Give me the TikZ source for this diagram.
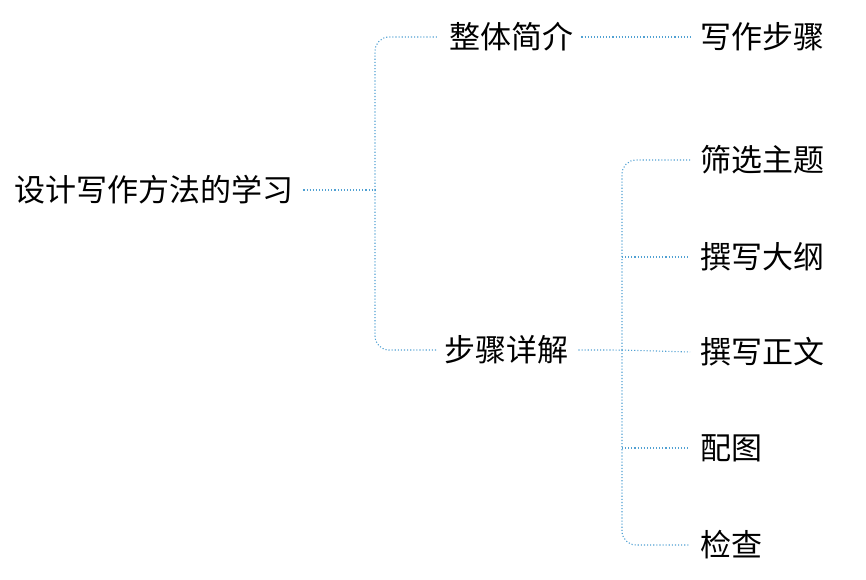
\documentclass[tikz,border=0pt]{standalone}
\usepackage{fontspec}
\setmainfont{Liberation Sans}
\newfontfamily\cjk{Noto Sans CJK SC}
\definecolor{lc}{RGB}{80,160,210}
\begin{document}
\begin{tikzpicture}[x=1pt,y=-1pt,
  lbl/.style={font=\cjk\fontsize{31}{34}\selectfont,inner sep=0pt,anchor=west},
  con/.style={draw=lc,dotted,line width=1.1pt,rounded corners=14pt}]
\useasboundingbox (0,0) rectangle (866,579);
\node[lbl] (root) at (14,190) {设计写作方法的学习};
\node[lbl] (a) at (449,37) {整体简介};
\node[lbl] (b) at (444,350) {步骤详解};
\node[lbl] (a1) at (700,37) {写作步骤};
\node[lbl] (b1) at (700,160) {筛选主题};
\node[lbl] (b2) at (700,257) {撰写大纲};
\node[lbl] (b3) at (700,352) {撰写正文};
\node[lbl] (b4) at (700,448) {配图};
\node[lbl] (b5) at (700,545) {检查};
\coordinate (j1) at (375,190);
\coordinate (j2) at (622,350);
\draw[con] ([xshift=10pt]root.east) -- (j1);
\draw[con] (j1) |- ([xshift=-12pt]a.west);
\draw[con] (j1) |- ([xshift=-8pt]b.west);
\draw[con] ([xshift=8pt]a.east) -- ([xshift=-10pt]a1.west);
\draw[con] ([xshift=10pt]b.east) -- (j2) -- ([xshift=-10pt]b3.west);
\draw[con] (j2) |- ([xshift=-10pt]b1.west);
\draw[con] (j2) |- ([xshift=-10pt]b5.west);
\draw[con,rounded corners=0pt] (j2|-b2) -- ([xshift=-10pt]b2.west);
\draw[con,rounded corners=0pt] (j2|-b4) -- ([xshift=-10pt]b4.west);
\end{tikzpicture}
\end{document}
